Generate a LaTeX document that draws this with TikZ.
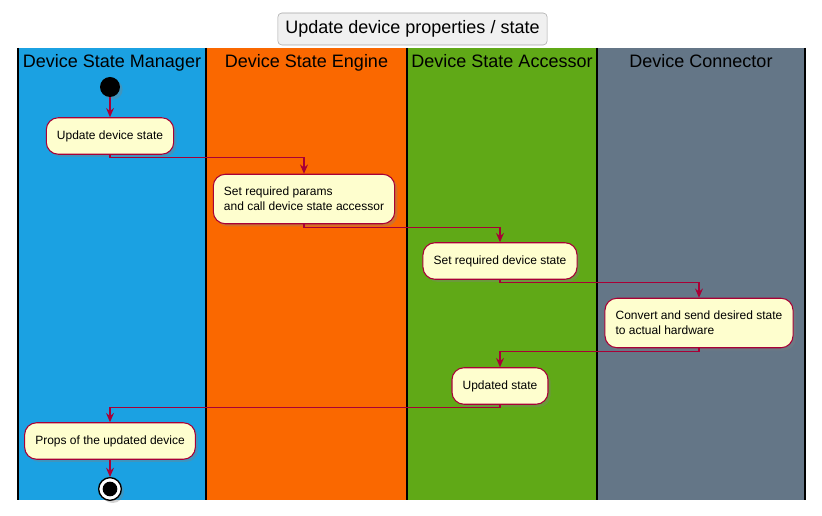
\documentclass[tikz,border=0pt]{standalone}
\usepackage{fontspec}
\setmainfont{Liberation Sans}
\usetikzlibrary{arrows.meta,shadows}
\definecolor{laneblue}{HTML}{1BA1E2}
\definecolor{laneorange}{HTML}{FA6800}
\definecolor{lanegreen}{HTML}{60A917}
\definecolor{lanegray}{HTML}{647687}
\definecolor{flowred}{HTML}{A80036}
\definecolor{actfill}{HTML}{FEFECE}

\begin{document}
\begin{tikzpicture}[x=0.75pt,y=-0.75pt,
  act/.style={draw=flowred,fill=actfill,line width=0.8pt,rounded corners=9pt,
    font=\fontsize{9}{11.5}\selectfont,align=left,inner xsep=8pt,inner ysep=9.5pt,
    minimum height=27pt,drop shadow={shadow xshift=2pt,shadow yshift=-2pt,opacity=0.35}},
  flow/.style={draw=flowred,line width=0.8pt,-{Stealth[length=7pt,width=6pt,inset=2.5pt]}},
  lanetitle/.style={font=\fontsize{13.5}{15}\selectfont,text=black,text height=10pt,text depth=3pt}]
  \useasboundingbox (0,0) rectangle (822,516);
  \node[draw=black!35,fill=black!6,rounded corners=3pt,minimum width=202pt,minimum height=24pt,
    font=\fontsize{13.5}{15}\selectfont] (ttl) at (412.5,29) {Update device properties / state};
  % swimlanes
  \foreach \xa/\xb/\col/\name in {18/206/laneblue/Device State Manager,206/407/laneorange/Device State Engine,
      407/597/lanegreen/Device State Accessor,597/805/lanegray/Device Connector}{
    \fill[\col] (\xa,48) rectangle (\xb,500);
    \node[lanetitle] at ({(\xa+\xb)/2},63) {\name};
  }
  \foreach \x in {18,206,407,597,805} \draw[line width=1.5pt] (\x,48) -- (\x,500);
  % activities
  \node[circle,fill=black,minimum size=15pt,inner sep=0pt,
    drop shadow={shadow xshift=2pt,shadow yshift=-2pt,opacity=0.35}] (start) at (110,87) {};
  \node[act] (upd) at (110,136) {Update device state};
  \node[act] (params) at (304,199) {Set required params\\and call device state accessor};
  \node[act] (setst) at (500,261) {Set required device state};
  \node[act] (conv) at (699,323) {Convert and send desired state\\to actual hardware};
  \node[act] (updst) at (500,386) {Updated state};
  \node[act] (props) at (110,441) {Props of the updated device};
  \node[circle,draw=black,line width=1pt,fill=white,minimum size=17pt,inner sep=0pt,
    drop shadow={shadow xshift=2pt,shadow yshift=-2pt,opacity=0.35}] (stop) at (110,489) {};
  \fill[black] (stop) circle (5.5pt);
  % flow
  \draw[flow] (start) -- (upd);
  \draw[flow] (upd.south) -- ++(0,3) -| (params.north);
  \draw[flow] (params.south) -- ++(0,3) -| (setst.north);
  \draw[flow] (setst.south) -- ++(0,3) -| (conv.north);
  \draw[flow] (conv.south) -- ++(0,3) -| (updst.north);
  \draw[flow] (updst.south) -- ++(0,3) -| (props.north);
  \draw[flow] (props) -- (stop);
\end{tikzpicture}
\end{document}
